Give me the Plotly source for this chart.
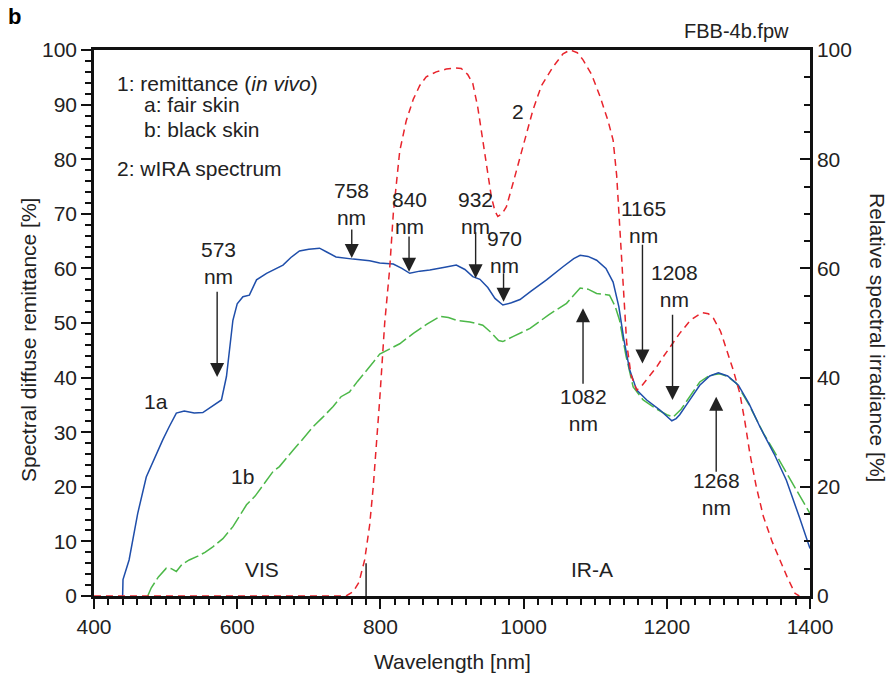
import plotly.graph_objects as go

# ---------------- data ----------------
# 1a: remittance, fair skin
wl_1a = [440, 440.5, 449, 461, 473, 485, 496, 505, 515, 526, 540, 552, 565, 571, 578, 585, 590, 594,
         600, 603, 608, 617, 627, 641, 664, 675, 687, 700, 715, 725, 738, 762, 785, 799, 818, 830,
         841, 855, 869, 890, 906, 918, 929, 939, 950, 960, 971, 983, 995, 1010, 1032, 1055, 1070,
         1079, 1090, 1102, 1115, 1125, 1133, 1140, 1148, 1158, 1172, 1190, 1200, 1207, 1213, 1218,
         1230, 1246, 1260, 1272, 1285, 1300, 1315, 1330, 1350, 1367, 1385, 1400]
rem_1a = [0, 3, 6.6, 15.1, 21.8, 25.5, 28.6, 31, 33.5, 33.9, 33.5, 33.6, 34.8, 35.4, 35.9, 40.2, 46, 50.5,
          53.5, 54, 54.8, 55.1, 57.9, 59.1, 60.6, 62, 63.2, 63.5, 63.7, 63, 62.1, 61.7, 61.4, 61.0, 60.8, 60,
          59.1, 59.5, 59.7, 60.2, 60.6, 59.8, 58.5, 58.0, 56.5, 54.5, 53.3, 53.7, 54.3, 55.8, 57.9, 60.3, 61.8,
          62.4, 62.2, 61.5, 60, 57.5, 53, 47, 41.5, 37.7, 35.9, 34.1, 33, 32.1, 32.5, 33.2,
          35.5, 38.6, 40.3, 40.9, 40.3, 38.6, 35.2, 31.0, 26, 21.2, 14.5, 8.7]

# 1b: remittance, black skin
wl_1b = [475, 480, 490, 501, 508, 515, 523, 533, 545, 555, 566, 580, 594, 603, 613, 625, 641, 650, 659,
         668, 678, 690, 706, 720, 734, 745, 757, 768, 780, 790, 799, 813, 827, 846, 865, 883, 895, 906,
         925, 943, 955, 965, 971, 985, 1009, 1035, 1060, 1079, 1090, 1102, 1120, 1128, 1134, 1143, 1153,
         1167, 1185, 1200, 1209, 1220, 1232, 1246, 1260, 1274, 1285, 1297, 1315, 1335, 1350, 1367, 1385, 1400]
rem_1b = [0, 1.5, 3.5, 5.1, 5.0, 4.5, 5.8, 6.6, 7.3, 8.0, 9.0, 10.5, 12.7, 14.5, 16.7, 18.3, 21.2, 22.8, 23.7,
          25.2, 26.7, 28.5, 31.0, 32.8, 34.7, 36.5, 37.4, 39.3, 41.1, 42.8, 44.3, 45.3, 46.2, 48.1, 49.8, 51.2, 51.0, 50.5,
          50.2, 49.6, 48.2, 46.8, 46.6, 47.5, 49.0, 51.5, 53.6, 56.4, 56.2, 55.4, 55.1, 53, 50.5, 44, 38.3,
          35.9, 34.3, 33.2, 32.8, 34.2, 36.5, 39.2, 40.4, 40.7, 40.2, 39.0, 35, 29.8, 26.5, 22.5, 18.5, 15.1]

# 2: wIRA spectrum (relative spectral irradiance)
wl_2 = [400, 752, 762, 770, 778, 785, 790, 795, 799, 806, 813, 818, 827, 836, 846, 855, 864, 878, 892, 905,
        913, 922, 929, 936, 943, 950, 955, 960, 964, 970, 976, 985, 995, 1005, 1013, 1025, 1041, 1055, 1065,
        1075, 1083, 1095, 1107, 1118, 1125, 1130, 1134, 1138, 1141, 1144, 1150, 1158, 1165, 1172, 1185, 1195,
        1207, 1218, 1233, 1249, 1258, 1265, 1275, 1284, 1293, 1302, 1309, 1316, 1325, 1335, 1347, 1358, 1368,
        1379, 1385]
irr_2 = [0, 0, 0.8, 2.5, 6.6, 13, 20, 28, 35.9, 50, 60, 70, 81.5, 87, 91, 93.5, 95.1, 96, 96.5, 96.7,
         96.6, 95.5, 93.9, 89.5, 83.5, 77, 73.1, 70.5, 69.5, 70, 71.3, 75.5, 80.5, 85.5, 89, 93.5, 96.9, 99.3, 100,
         99.5, 98.2, 95.5, 91.4, 87, 83.5, 77, 68.3, 60, 53, 46.3, 40.5, 37.7, 38.5, 39.6, 41.8, 43.8,
         46, 48.1, 50.5, 51.9, 51.7, 50.9, 48.5, 45.1, 41.3, 37.1, 32, 26.1, 20, 14.5, 10, 6.6, 3.5,
         0.5, 0]

# marked wavelengths
mark_labels = ["573", "758", "840", "932", "970", "1165", "1208", "1082", "1268"]
mark_x      = [572, 760, 840, 933, 972, 1166, 1208, 1083, 1269]
mark_tip    = [40.1, 61.9, 59.4, 58.2, 53.9, 42.6, 35.9, 52.7, 36.5]
mark_tail   = [56.0, 67.4, 66.1, 66.9, 59.4, 64.6, 51.8, 38.6, 22.5]
mark_lab_x  = [574, 760, 840, 933, 974, 1168, 1211, 1084, 1270]
mark_lab_y  = [60.9, 71.8, 70.1, 70.1, 63.0, 68.5, 56.7, 34.0, 18.6]

vis_ira_boundary = 780
boundary_height = 6

x_ticks = [400, 600, 800, 1000, 1200, 1400]

# ---------------- figure ----------------
FONT = "Liberation Sans, Arial, sans-serif"
TXT = "#222222"
FS = 21

fig = go.Figure()

fig.add_trace(go.Scatter(x=wl_2, y=irr_2, mode="lines", yaxis="y2",
                         line=dict(color="#e8242c", width=1.5, dash="7px,5px"), name="2"))
fig.add_trace(go.Scatter(x=wl_1b, y=rem_1b, mode="lines",
                         line=dict(color="#4cb848", width=1.5, dash="15px,4px"), name="1b"))
fig.add_trace(go.Scatter(x=wl_1a, y=rem_1a, mode="lines",
                         line=dict(color="#1f4eaa", width=1.5), name="1a"))

ann = []
for lab, x, tip, tail, lx, ly in zip(mark_labels, mark_x, mark_tip, mark_tail, mark_lab_x, mark_lab_y):
    ann.append(dict(x=x, y=tip, ax=x, ay=tail, xref="x", yref="y", axref="x", ayref="y",
                    text="", showarrow=True, arrowhead=2, arrowsize=2.0, arrowwidth=1.4,
                    arrowcolor="#222222", standoff=0))
    ann.append(dict(x=lx, y=ly, xref="x", yref="y", text=lab + "<br>nm", showarrow=False,
                    xanchor="center", yanchor="middle", align="center",
                    font=dict(size=FS, color=TXT, family=FONT)))

curve_labels = [("1a", 487, 35.6), ("1b", 608, 21.8), ("2", 992, 88.7), ("VIS", 634, 4.9), ("IR-A", 1095, 4.9)]
for t, x, y in curve_labels:
    ann.append(dict(x=x, y=y, xref="x", yref="y", text=t, showarrow=False,
                    xanchor="center", yanchor="middle",
                    font=dict(size=FS, color=TXT, family=FONT)))


def px2paper(px, py):
    return (px - 94) / 716, 1 - (py - 50) / 546


# legend-like text block
legend_lines = [("1: remittance (<i>in vivo</i>)", 115, 83), ("a: fair skin", 142, 105),
                ("b: black skin", 142, 129), ("2: wIRA spectrum", 115, 168)]
for t, px, py in legend_lines:
    xp, yp = px2paper(px, py)
    ann.append(dict(x=xp, y=yp, xref="paper", yref="paper",
                    xanchor="left", yanchor="middle", text=t, showarrow=False,
                    font=dict(size=FS, color=TXT, family=FONT)))

# axis titles and corner texts
extra_texts = [("Spectral diffuse remittance [%]", 28, 340, -90, FS, TXT),
               ("Relative spectral irradiance [%]", 878, 337, 90, FS, TXT),
               ("Wavelength [nm]", 452, 661, 0, FS, TXT),
               ("<b>b</b>", 14, 17, 0, 22, "#000"),
               ("FBB-4b.fpw", 736, 31, 0, 20, TXT)]
for t, px, py, ang, fs, col in extra_texts:
    xp, yp = px2paper(px, py)
    ann.append(dict(x=xp, y=yp, xref="paper", yref="paper", xanchor="center", yanchor="middle",
                    text=t, textangle=ang, showarrow=False,
                    font=dict(size=fs, color=col, family=FONT)))

shapes = [dict(type="line", x0=vis_ira_boundary, x1=vis_ira_boundary, y0=0, y1=boundary_height,
               xref="x", yref="y", line=dict(color="#222", width=1.5))]

axis_common = dict(showgrid=False, zeroline=False, showline=True, linecolor="#111", linewidth=2.5,
                   tickcolor="#111", tickfont=dict(size=FS, color=TXT, family=FONT))

fig.update_layout(
    width=894, height=676,
    margin=dict(l=94, r=84, t=50, b=80),
    paper_bgcolor="white", plot_bgcolor="white",
    showlegend=False,
    font=dict(family=FONT, color=TXT),
    xaxis=dict(range=[400, 1400], tickvals=x_ticks, ticks="outside", ticklen=10, tickwidth=2,
               mirror=True,
               minor=dict(dtick=20, ticks="outside", ticklen=6, tickwidth=1.5, tickcolor="#111"),
               **axis_common),
    yaxis=dict(range=[0, 100], dtick=10, ticks="outside", ticklen=10, tickwidth=2,
               minor=dict(dtick=2, ticks="outside", ticklen=6, tickwidth=1.5, tickcolor="#111"),
               **axis_common),
    yaxis2=dict(range=[0, 100], dtick=20, overlaying="y", side="right", ticks="inside", ticklen=10,
                tickwidth=2, minor=dict(dtick=5, ticks="inside", ticklen=6, tickwidth=1.5, tickcolor="#111"),
                **axis_common),
    annotations=ann,
    shapes=shapes,
)

fig.write_html("out.html")
